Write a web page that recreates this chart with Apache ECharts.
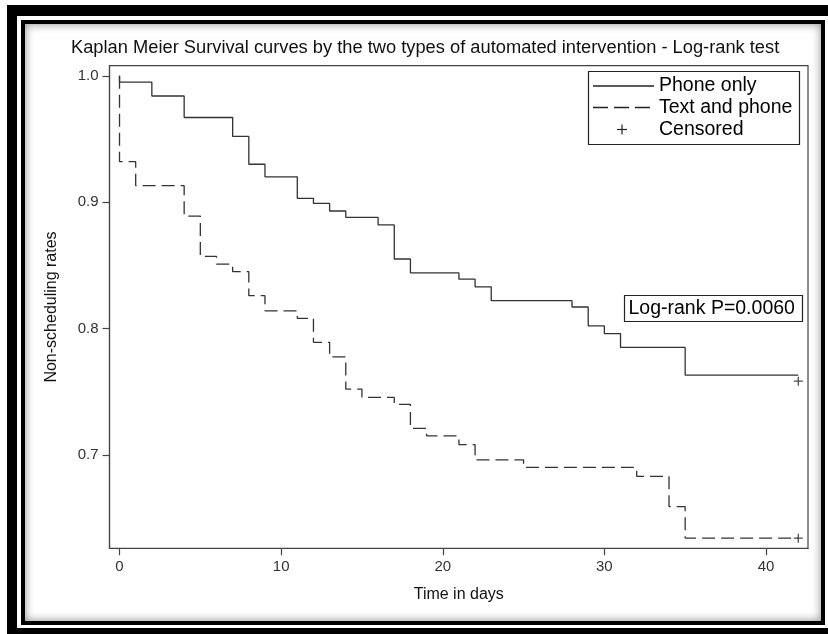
<!DOCTYPE html>
<html>
<head>
<meta charset="utf-8">
<title>Kaplan Meier Survival curves</title>
<script src="https://cdn.jsdelivr.net/npm/echarts@6.0.0/dist/echarts.min.js"></script>
<style>
  html, body { margin: 0; padding: 0; background: #fff; }
  body { width: 828px; height: 634px; position: relative; overflow: hidden; }
  /* picture frame round the chart */
  .frame-outer {
    position: absolute; left: 7px; top: 5px; width: 850px; height: 629px;
    box-sizing: border-box; border: 10px solid #000; border-top-width: 11px; border-bottom-width: 6px;
  }
  .frame-inner {
    position: absolute; left: 21px; top: 20px; width: 804px; height: 605px;
    box-sizing: border-box; border: 4px solid #000; background: #fff;
    box-shadow: inset 0 0 10px rgba(0, 0, 0, 0.45);
  }
  #main { position: absolute; left: 0; top: 0; width: 828px; height: 634px; z-index: 2; }
</style>
</head>
<body>
<div class="frame-outer"></div>
<div class="frame-inner"></div>
<div id="main"></div>
<script>
// Phone only (solid)
const phoneDays  = [0, 0, 2, 4, 7, 8, 9, 11, 12, 13, 14, 16, 17, 18, 21, 22, 23, 28, 29, 30, 31, 35, 42];
const phoneRates = [1.0, 0.995, 0.984, 0.967, 0.952, 0.930, 0.920, 0.903, 0.899, 0.893, 0.888, 0.882,
                    0.855, 0.844, 0.839, 0.833, 0.822, 0.817, 0.802, 0.796, 0.785, 0.763, 0.763];

// Text and phone (dashed)
const textDays  = [0, 0, 1, 4, 5, 6, 7, 8, 9, 11, 12, 13, 14, 15, 17, 18, 19, 21, 22, 25, 32, 34, 35, 42];
const textRates = [1.0, 0.932, 0.913, 0.889, 0.857, 0.851, 0.845, 0.826, 0.814, 0.808, 0.789, 0.7775,
                   0.752, 0.7455, 0.740, 0.721, 0.715, 0.708, 0.696, 0.690, 0.683, 0.659, 0.634, 0.634];

// censored observations (last follow-up)
const censorDays  = [42, 42];
const censorRates = [0.763, 0.634];

const xTicks = [0, 10, 20, 30, 40];
const yTicks = [0.7, 0.8, 0.9, 1.0];

const FONT = '"Liberation Sans", Arial, Helvetica, sans-serif';
const INK = '#333';

function pairs(xs, ys) {
  return xs.map((x, i) => [x, ys[i]]);
}

const chart = echarts.init(document.getElementById('main'), null, { renderer: 'canvas' });

const option = {
  animation: false,
  backgroundColor: 'transparent',
  textStyle: { fontFamily: FONT },
  title: {
    text: 'Kaplan Meier Survival curves by the two types of automated intervention - Log-rank test',
    left: 71,
    top: 39,
    padding: 0,
    textStyle: { fontFamily: FONT, fontSize: 18.3, fontWeight: 'normal', color: '#111' }
  },
  grid: {
    left: 109.5, right: 20, top: 65.7, bottom: 85.7,
    show: true, borderColor: '#444', borderWidth: 1.2,
    containLabel: false, outerBoundsMode: 'none'
  },
  xAxis: {
    type: 'value',
    min: -0.62, max: 42.6,
    name: 'Time in days',
    nameLocation: 'middle',
    nameGap: 38,
    nameTextStyle: { fontFamily: FONT, fontSize: 16, color: '#111' },
    axisLine: { show: true, onZero: false, lineStyle: { color: '#444', width: 1.2 } },
    axisTick: { show: true, length: 7, customValues: xTicks, lineStyle: { color: '#444', width: 1.2 } },
    axisLabel: { customValues: xTicks, margin: 11, fontSize: 15, color: INK, fontFamily: FONT },
    splitLine: { show: false }
  },
  yAxis: {
    type: 'value',
    min: 0.626, max: 1.008,
    name: 'Non-scheduling rates',
    nameLocation: 'middle',
    nameGap: 50,
    nameTextStyle: { fontFamily: FONT, fontSize: 16, color: '#111' },
    axisLine: { show: true, onZero: false, lineStyle: { color: '#444', width: 1.2 } },
    axisTick: { show: true, length: 7, customValues: yTicks, lineStyle: { color: '#444', width: 1.2 } },
    axisLabel: {
      customValues: yTicks, margin: 11, fontSize: 15, color: INK, fontFamily: FONT,
      formatter: v => v.toFixed(1)
    },
    splitLine: { show: false }
  },
  series: [
    {
      name: 'Phone only',
      type: 'line',
      step: 'end',
      symbol: 'none',
      lineStyle: { color: '#333', width: 1.3, type: 'solid' },
      data: pairs(phoneDays, phoneRates)
    },
    {
      name: 'Text and phone',
      type: 'line',
      step: 'end',
      symbol: 'none',
      lineStyle: { color: '#333', width: 1.3, type: [13, 6] },
      data: pairs(textDays, textRates)
    },
    {
      name: 'Censored',
      type: 'scatter',
      symbol: 'path://M5,0L5,10M0,5L10,5',
      symbolSize: 9,
      itemStyle: { color: 'none', borderColor: '#222', borderWidth: 1.3 },
      z: 5,
      // the upper plus sits a little under its line in the original
      data: pairs(censorDays, censorRates).map((p, i) => ({ value: p, symbolOffset: i === 0 ? [0, 6] : [0, 0] }))
    }
  ],
  // legend box and the test result box
  graphic: [
    { type: 'rect', z: 20, shape: { x: 588.5, y: 71.5, width: 211, height: 73 },
      style: { fill: '#fff', stroke: '#222', lineWidth: 1.2 } },
    { type: 'line', z: 21, shape: { x1: 593, y1: 86, x2: 654, y2: 86 },
      style: { stroke: '#222', lineWidth: 1.3 } },
    { type: 'line', z: 21, shape: { x1: 593, y1: 107.5, x2: 654, y2: 107.5 },
      style: { stroke: '#222', lineWidth: 1.3, lineDash: [15, 6] } },
    { type: 'line', z: 21, shape: { x1: 617, y1: 129.5, x2: 627, y2: 129.5 },
      style: { stroke: '#222', lineWidth: 1.2 } },
    { type: 'line', z: 21, shape: { x1: 622, y1: 124.5, x2: 622, y2: 134.5 },
      style: { stroke: '#222', lineWidth: 1.2 } },
    { type: 'text', z: 21, x: 659, y: 86,
      style: { text: 'Phone only', font: '19.5px ' + FONT, fill: '#000', verticalAlign: 'middle' } },
    { type: 'text', z: 21, x: 659, y: 107.5,
      style: { text: 'Text and phone', font: '19.5px ' + FONT, fill: '#000', verticalAlign: 'middle' } },
    { type: 'text', z: 21, x: 659, y: 129.5,
      style: { text: 'Censored', font: '19.5px ' + FONT, fill: '#000', verticalAlign: 'middle' } },

    { type: 'rect', z: 20, shape: { x: 624.5, y: 295.5, width: 178, height: 26 },
      style: { fill: '#fff', stroke: '#222', lineWidth: 1.2 } },
    { type: 'text', z: 21, x: 628.5, y: 308.5,
      style: { text: 'Log-rank P=0.0060', font: '19.5px ' + FONT, fill: '#000', verticalAlign: 'middle' } }
  ]
};

chart.setOption(option);
</script>
</body>
</html>
